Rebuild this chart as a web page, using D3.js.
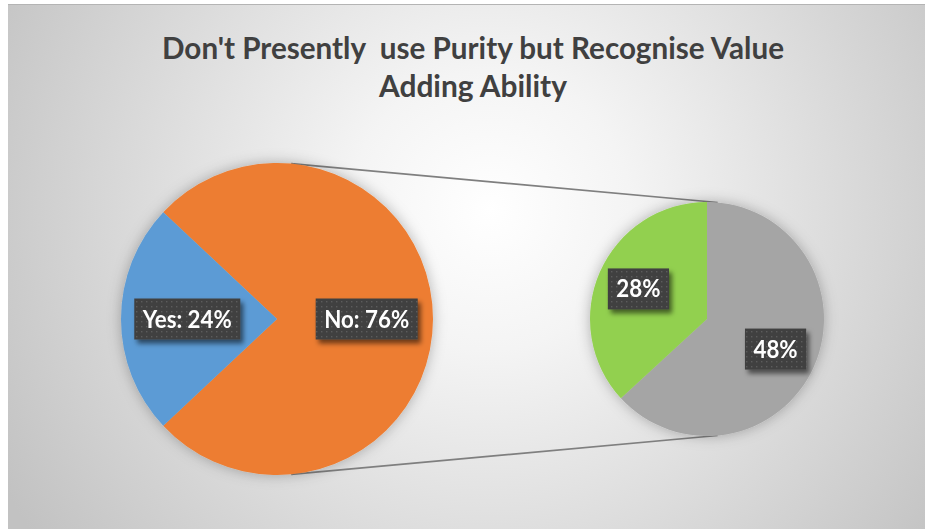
<!DOCTYPE html>
<html>
<head>
<meta charset="utf-8">
<script src="https://cdn.jsdelivr.net/npm/d3@7"></script>
<style>
  html, body { margin: 0; padding: 0; background: #ffffff; }
  svg { display: block; }
  text { white-space: pre; }
</style>
</head>
<body>
<svg id="chart" width="925" height="529"></svg>
<script>
// Survey answers shown in the main pie
const mainCategories = ["No", "Yes"];
const mainValues = [76, 24];
// Breakdown of the "No" answers shown in the secondary pie
const subCategories = ["Gray", "Green"];
const subValues = [48, 28];
const subLabels = ["48%", "28%"];
const titleLines = ["Don't Presently  use Purity but Recognise Value", "Adding Ability"];

const mainColors = d3.scaleOrdinal().domain(mainCategories).range(["#ED7D31", "#5B9BD5"]);
const subColors = d3.scaleOrdinal().domain(subCategories).range(["#A5A5A5", "#92D050"]);

const W = 925, H = 529;
const FONT = "Lato, 'Open Sans', sans-serif";
const svg = d3.select("#chart");
const defs = svg.append("defs");

// Background: radial grey fill of the chart area
const bg = defs.append("radialGradient")
  .attr("id", "bgGrad").attr("gradientUnits", "userSpaceOnUse")
  .attr("cx", 490).attr("cy", 210).attr("r", 560);
bg.append("stop").attr("offset", 0).attr("stop-color", "#ffffff");
bg.append("stop").attr("offset", 0.25).attr("stop-color", "#f4f4f4");
bg.append("stop").attr("offset", 1).attr("stop-color", "#c2c2c2");

// Soft halo round each pie
const halo = defs.append("filter").attr("id", "halo")
  .attr("x", "-20%").attr("y", "-20%").attr("width", "140%").attr("height", "140%");
halo.append("feGaussianBlur").attr("in", "SourceAlpha").attr("stdDeviation", 7).attr("result", "b");
halo.append("feFlood").attr("flood-color", "#000").attr("flood-opacity", 0.28).attr("result", "c");
halo.append("feComposite").attr("in", "c").attr("in2", "b").attr("operator", "in").attr("result", "s");
const hm = halo.append("feMerge");
hm.append("feMergeNode").attr("in", "s");
hm.append("feMergeNode").attr("in", "SourceGraphic");

// Drop shadow under label boxes
const lblShadow = defs.append("filter").attr("id", "lblShadow")
  .attr("x", "-20%").attr("y", "-30%").attr("width", "150%").attr("height", "170%");
lblShadow.append("feGaussianBlur").attr("in", "SourceAlpha").attr("stdDeviation", 2.5).attr("result", "b");
lblShadow.append("feOffset").attr("in", "b").attr("dx", 3).attr("dy", 4).attr("result", "o");
lblShadow.append("feFlood").attr("flood-color", "#000").attr("flood-opacity", 0.55).attr("result", "c");
lblShadow.append("feComposite").attr("in", "c").attr("in2", "o").attr("operator", "in").attr("result", "s");
const lm = lblShadow.append("feMerge");
lm.append("feMergeNode").attr("in", "s");
lm.append("feMergeNode").attr("in", "SourceGraphic");

// Dotted dark fill of label boxes
const dots = defs.append("pattern").attr("id", "dots")
  .attr("patternUnits", "userSpaceOnUse").attr("width", 5).attr("height", 5);
dots.append("rect").attr("width", 5).attr("height", 5).attr("fill", "#3f3f3f");
dots.append("rect").attr("x", 1).attr("y", 1).attr("width", 1.4).attr("height", 1.4).attr("fill", "#5c5c5c");

// Chart area
svg.append("rect").attr("x", 8).attr("y", 4).attr("width", W - 8).attr("height", H - 4)
  .attr("fill", "url(#bgGrad)");
svg.append("line").attr("x1", 8).attr("x2", W).attr("y1", 4.5).attr("y2", 4.5)
  .attr("stroke", "#b4b4b4").attr("stroke-width", 1);

// Title
const title = svg.append("g");
title.selectAll("text").data(titleLines).join("text")
  .attr("x", 473).attr("y", (d, i) => 59 + i * 38)
  .attr("text-anchor", "middle")
  .attr("font-family", FONT)
  .attr("font-weight", 700).attr("font-size", 30)
  .attr("fill", "#404040")
  .attr("textLength", (d, i) => i === 0 ? 622 : 188)
  .attr("lengthAdjust", "spacingAndGlyphs")
  .text(d => d);

// Geometry of the two pies
const main = { cx: 277, cy: 319, r: 156 };
const sub = { cx: 707, cy: 319, r: 117 };

const mainTotal = d3.sum(mainValues);
const noShare = mainValues[0] / mainTotal;
// "No" centred on the right, "Yes" on the left
const mainPie = d3.pie().sort(null)
  .startAngle(Math.PI / 2 - noShare * Math.PI)
  .endAngle(Math.PI / 2 - noShare * Math.PI + 2 * Math.PI);
const subPie = d3.pie().sort(null).startAngle(0).endAngle(2 * Math.PI);

const mainArc = d3.arc().innerRadius(0).outerRadius(main.r);
const subArc = d3.arc().innerRadius(0).outerRadius(sub.r);
const mainLabelArc = d3.arc().innerRadius(main.r * 0.575).outerRadius(main.r * 0.575);
const subLabelArc = d3.arc().innerRadius(sub.r * 0.64).outerRadius(sub.r * 0.64);

const mainData = mainPie(mainValues).map((a, i) => Object.assign(a, { cat: mainCategories[i] }));
const subData = subPie(subValues).map((a, i) => Object.assign(a, { cat: subCategories[i] }));

// Connector lines: outer common tangents of both circles
const d = sub.cx - main.cx;
const phi = Math.asin((main.r - sub.r) / d);
[-1, 1].forEach(s => {
  const nx = Math.sin(phi), ny = s * Math.cos(phi);
  svg.append("line")
    .attr("x1", main.cx + main.r * nx).attr("y1", main.cy + main.r * ny)
    .attr("x2", sub.cx + sub.r * nx).attr("y2", sub.cy + sub.r * ny)
    .attr("stroke", "#7f7f7f").attr("stroke-width", 1.6);
});

const gMain = svg.append("g").attr("transform", `translate(${main.cx},${main.cy})`)
  .attr("filter", "url(#halo)");
gMain.selectAll("path").data(mainData).join("path")
  .attr("d", mainArc).attr("fill", d => mainColors(d.cat));

const gSub = svg.append("g").attr("transform", `translate(${sub.cx},${sub.cy})`)
  .attr("filter", "url(#halo)");
gSub.selectAll("path").data(subData).join("path")
  .attr("d", subArc).attr("fill", d => subColors(d.cat));

// Data labels: dark dotted box with white text
function drawLabel(x, y, txt) {
  const g = svg.append("g").attr("filter", "url(#lblShadow)");
  const t = g.append("text")
    .attr("x", x).attr("y", y + 8.5)
    .attr("text-anchor", "middle")
    .attr("font-family", FONT)
    .attr("font-weight", 700).attr("font-size", 24)
    .attr("fill", "#ffffff")
    .text(txt);
  // narrow the glyphs a little, like a condensed UI face
  const natural = t.node().getComputedTextLength();
  const tw = natural * 0.93;
  t.attr("textLength", tw).attr("lengthAdjust", "spacingAndGlyphs");
  g.insert("rect", "text")
    .attr("x", x - tw / 2 - 8.5).attr("y", y - 20.5)
    .attr("width", tw + 17).attr("height", 41)
    .attr("fill", "url(#dots)");
}
mainData.forEach(a => {
  const [x, y] = mainLabelArc.centroid(a);
  drawLabel(main.cx + x, main.cy + y, `${a.cat}: ${Math.round(a.value / mainTotal * 100)}%`);
});
subData.forEach((a, i) => {
  const [x, y] = subLabelArc.centroid(a);
  drawLabel(sub.cx + x, sub.cy + y, subLabels[i]);
});
</script>
</body>
</html>
